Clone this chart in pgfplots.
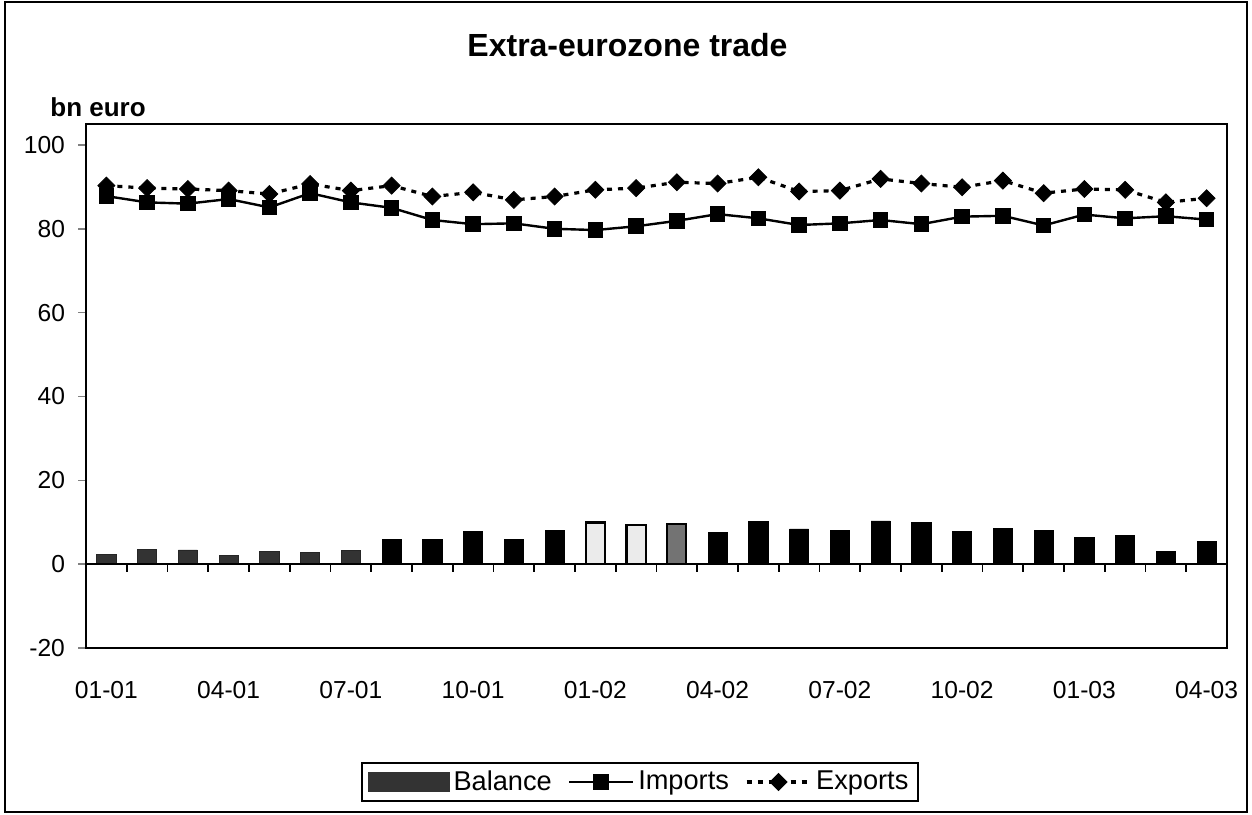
\documentclass[border=0pt]{standalone}
\usepackage{pgfplots}
\pgfplotsset{compat=1.18}
\usepackage{fontspec}
\setmainfont{Liberation Sans}
\pgfplotsset{
  longline legend/.style={legend image code/.code={\draw[mark repeat=2,mark phase=2,##1] plot coordinates {(0pt,0pt)(16pt,0pt)(32pt,0pt)};}},
  barswatch legend/.style={legend image code/.code={\fill[black!80] (0pt,-4.5pt) rectangle (40pt,4.5pt);}},
}

\begin{document}
\begin{tikzpicture}
\useasboundingbox (0,0) rectangle (626pt,407pt);
\draw[line width=1pt] (2.5pt,1pt) rectangle (623.5pt,406pt);
\node[font=\bfseries\fontsize{16}{19}\selectfont] at (313.75pt,384.5pt) {Extra-eurozone trade};
\node[font=\bfseries\fontsize{13}{15}\selectfont, anchor=west, inner sep=0pt] at (25pt,353.5pt) {bn euro};
\begin{axis}[
  at={(43pt,83pt)}, anchor=south west,
  scale only axis, width=570.5pt, height=262pt,
  xmin=-0.5, xmax=27.5, ymin=-20, ymax=105,
  axis line style={line width=1.1pt},
  xtick={0,3,6,9,12,15,18,21,24,27},
  xticklabels={01-01,04-01,07-01,10-01,01-02,04-02,07-02,10-02,01-03,04-03},
  xtick style={draw=none},
  ytick={-20,0,20,40,60,80,100},
  yticklabels={-20,0,20,40,60,80,100},
  ytick pos=left, tick align=outside, major tick length=4pt,
  ytick style={line width=0.8pt},
  ticklabel style={font=\fontsize{12.3}{14}\selectfont},
  xticklabel style={yshift=-9pt},
  yticklabel style={xshift=-3pt},
  legend columns=3,
  legend style={at={(0.4855,-0.2557)}, anchor=center, draw=black, line width=1pt,
    font=\fontsize{13.6}{15}\selectfont, inner xsep=3pt, inner ysep=2pt,
    /tikz/every odd column/.append style={column sep=0pt},
    /tikz/every even column/.append style={column sep=6pt}},
]
% Balance (dark grey scanned bars)
\addplot[ybar, bar width=0.47, bar shift=0pt, fill=black!80, draw=black!85, barswatch legend]
  coordinates {(0,2.3) (1,3.5) (2,3.4) (3,2.1) (4,3.1) (5,2.8) (6,3.2)};
\addlegendentry{Balance}
\addplot[ybar, bar width=0.47, bar shift=0pt, fill=black, draw=black, forget plot]
  coordinates {(7,6.0) (8,6.0) (9,7.9) (10,6.0) (11,8.1)
  (15,7.6) (16,10.1) (17,8.4) (18,8.1) (19,10.3) (20,9.9) (21,7.7) (22,8.6)
  (23,8.1) (24,6.4) (25,6.8) (26,3.0) (27,5.4)};
\addplot[ybar, bar width=0.47, bar shift=0pt, fill=black!8, draw=black, line width=1.2pt, forget plot]
  coordinates {(12,9.9) (13,9.4)};
\addplot[ybar, bar width=0.47, bar shift=0pt, fill=black!55, draw=black, line width=1pt, forget plot]
  coordinates {(14,9.7)};
% zero axis with category ticks
\draw[line width=1pt] (axis cs:-0.5,0) -- (axis cs:27.5,0);
\pgfplotsinvokeforeach{0,...,26}{\draw[line width=0.8pt] (axis cs:#1.5,0) -- ([yshift=-4pt]axis cs:#1.5,0);}
% Imports
\addplot[black, line width=1.2pt, mark=square*, mark size=3.3pt, mark options={solid}, longline legend]
  coordinates {(0,87.8) (1,86.3) (2,86.0) (3,87.1) (4,85.1) (5,88.5) (6,86.3) (7,85.0)
  (8,82.1) (9,81.1) (10,81.3) (11,80.0) (12,79.7) (13,80.6) (14,81.9) (15,83.5)
  (16,82.5) (17,80.9) (18,81.3) (19,82.1) (20,81.1) (21,82.9) (22,83.1) (23,80.8)
  (24,83.4) (25,82.5) (26,83.0) (27,82.2)};
\addlegendentry{Imports}
% Exports
\addplot[black, line width=1.6pt, dash pattern=on 2.5pt off 3pt, mark=square*, mark size=3.0pt, mark options={solid, rotate=45, line width=0.4pt}, longline legend]
  coordinates {(0,90.3) (1,89.7) (2,89.5) (3,89.1) (4,88.3) (5,90.7) (6,89.1) (7,90.3)
  (8,87.7) (9,88.7) (10,86.9) (11,87.7) (12,89.3) (13,89.7) (14,91.1) (15,90.8)
  (16,92.3) (17,88.9) (18,89.1) (19,91.9) (20,90.8) (21,89.9) (22,91.5) (23,88.5)
  (24,89.5) (25,89.3) (26,86.3) (27,87.3)};
\addlegendentry{Exports}
\end{axis}
\end{tikzpicture}
\end{document}
